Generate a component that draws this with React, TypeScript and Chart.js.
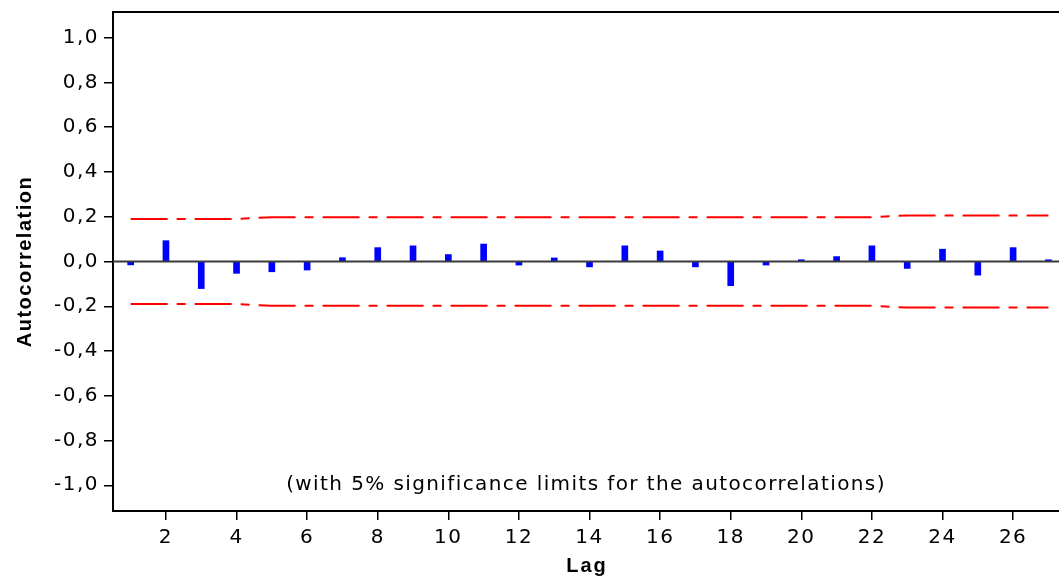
import { useEffect, useRef } from "react";
import { Chart, registerables } from "chart.js";

Chart.register(...registerables);

const lags = [1, 2, 3, 4, 5, 6, 7, 8, 9, 10, 11, 12, 13, 14, 15, 16, 17, 18, 19, 20, 21, 22, 23, 24, 25, 26, 27];
const acf = [
  -0.015, 0.093, -0.121, -0.053, -0.046, -0.038, 0.017, 0.062, 0.07, 0.031,
  0.078, -0.016, 0.016, -0.024, 0.07, 0.047, -0.024, -0.108, -0.016, 0.008,
  0.022, 0.07, -0.031, 0.055, -0.061, 0.062, 0.008,
];
const upperLimit = [
  0.19, 0.19, 0.19, 0.19, 0.198, 0.198, 0.198, 0.198, 0.198, 0.198,
  0.198, 0.198, 0.198, 0.198, 0.198, 0.198, 0.198, 0.198, 0.198, 0.198,
  0.198, 0.198, 0.206, 0.206, 0.206, 0.206, 0.206,
];
const lowerLimit = [
  -0.19, -0.19, -0.19, -0.19, -0.198, -0.198, -0.198, -0.198, -0.198, -0.198,
  -0.198, -0.198, -0.198, -0.198, -0.198, -0.198, -0.198, -0.198, -0.198, -0.198,
  -0.198, -0.198, -0.206, -0.206, -0.206, -0.206, -0.206,
];
const yTicks = [-1.0, -0.8, -0.6, -0.4, -0.2, 0.0, 0.2, 0.4, 0.6, 0.8, 1.0];
const xTicks = [2, 4, 6, 8, 10, 12, 14, 16, 18, 20, 22, 24, 26];
const xTitle = "Lag";
const yTitle = "Autocorrelation";
const note = "(with 5% significance limits for the autocorrelations)";

const fmt = (v: number) => v.toFixed(1).replace(".", ",");

const overlay = {
  id: "overlay",
  beforeLayout(chart: any) {
    chart.ctx.letterSpacing = "1.5px";
  },
  beforeDraw(chart: any) {
    chart.ctx.letterSpacing = "1.5px";
  },
  afterDatasetsDraw(chart: any) {
    const { ctx, chartArea: a, scales } = chart;
    const y0 = scales.y.getPixelForValue(0);
    ctx.save();
    ctx.strokeStyle = "#3a3a3a";
    ctx.lineWidth = 2;
    ctx.beginPath();
    ctx.moveTo(a.left, y0);
    ctx.lineTo(a.right, y0);
    ctx.stroke();
    ctx.restore();
  },
  afterDraw(chart: any) {
    const { ctx, chartArea: a } = chart;
    ctx.save();
    // top frame line
    ctx.strokeStyle = "#000";
    ctx.lineWidth = 2;
    ctx.beginPath();
    ctx.moveTo(a.left - 1, a.top);
    ctx.lineTo(a.right, a.top);
    ctx.stroke();

    ctx.fillStyle = "#000";
    // footnote
    ctx.letterSpacing = "1.4px";
    ctx.font = "20px 'DejaVu Sans'";
    ctx.textAlign = "center";
    ctx.textBaseline = "middle";
    ctx.fillText(note, (a.left + a.right) / 2, 485);

    // x title
    ctx.letterSpacing = "2px";
    ctx.font = "bold 20px 'Liberation Sans'";
    ctx.textBaseline = "alphabetic";
    ctx.fillText(xTitle, (a.left + a.right) / 2 + 1, 572);

    // y title
    ctx.letterSpacing = "1.5px";
    ctx.translate(31, (a.top + a.bottom) / 2);
    ctx.rotate(-Math.PI / 2);
    ctx.fillText(yTitle, 0, 0);
    ctx.restore();
  },
};

export default function App() {
  const ref = useRef<HTMLCanvasElement>(null);

  useEffect(() => {
    const canvas = ref.current;
    if (!canvas) return;
    const chart = new Chart(canvas, {
      type: "bar",
      data: {
        datasets: [
          {
            type: "bar",
            data: lags.map((x, i) => ({ x, y: acf[i] })) as any,
            backgroundColor: "#0000FF",
            borderWidth: 0,
            barThickness: 6,
            order: 2,
          } as any,
          {
            type: "line",
            data: lags.map((x, i) => ({ x, y: upperLimit[i] })) as any,
            borderColor: "#FF0000",
            borderWidth: 2,
            borderDash: [37, 9, 9, 9],
            pointRadius: 0,
            tension: 0,
            order: 1,
          } as any,
          {
            type: "line",
            data: lags.map((x, i) => ({ x, y: lowerLimit[i] })) as any,
            borderColor: "#FF0000",
            borderWidth: 2,
            borderDash: [37, 9, 9, 9],
            pointRadius: 0,
            tension: 0,
            order: 1,
          } as any,
        ],
      },
      options: {
        responsive: false,
        animation: false,
        layout: { padding: { top: 12, right: 0, bottom: 0, left: 0 } },
        plugins: {
          legend: { display: false },
          tooltip: { enabled: false },
          title: { display: false },
        },
        events: [],
        scales: {
          x: {
            type: "linear",
            min: 0.5,
            max: 27.3,
            offset: false,
            grid: {
              display: true,
              drawOnChartArea: false,
              drawTicks: true,
              tickLength: 9,
              color: "#000",
              lineWidth: 1.5,
              offset: false,
            },
            border: { display: true, color: "#000", width: 2 },
            ticks: {
              color: "#000",
              font: { family: "'DejaVu Sans'", size: 20 },
              padding: 6,
              maxRotation: 0,
              autoSkip: false,
              callback: (v: any) => String(v),
            },
            afterBuildTicks: (scale: any) => {
              scale.ticks = xTicks.map((value) => ({ value }));
            },
            afterFit: (scale: any) => {
              scale.height = 67;
              scale.paddingLeft = 0;
              scale.paddingRight = 0;
            },
          },
          y: {
            type: "linear",
            min: -1.115,
            max: 1.115,
            grid: {
              display: true,
              drawOnChartArea: false,
              drawTicks: true,
              tickLength: 9,
              color: "#000",
              lineWidth: 1.5,
            },
            border: { display: true, color: "#000", width: 2 },
            ticks: {
              color: "#000",
              font: { family: "'DejaVu Sans'", size: 20 },
              padding: 5,
              autoSkip: false,
              callback: (v: any) => fmt(Number(v)),
            },
            afterBuildTicks: (scale: any) => {
              scale.ticks = yTicks.map((value) => ({ value }));
            },
            afterFit: (scale: any) => {
              scale.width = 113;
              scale.paddingTop = 0;
              scale.paddingBottom = 0;
            },
          },
        },
      } as any,
      plugins: [overlay],
    });
    return () => chart.destroy();
  }, []);

  return (
    <div style={{ position: "absolute", left: 0, top: 0, width: 1059, height: 578, background: "#fff" }}>
      <canvas ref={ref} width={1059} height={578} style={{ display: "block" }} />
    </div>
  );
}
